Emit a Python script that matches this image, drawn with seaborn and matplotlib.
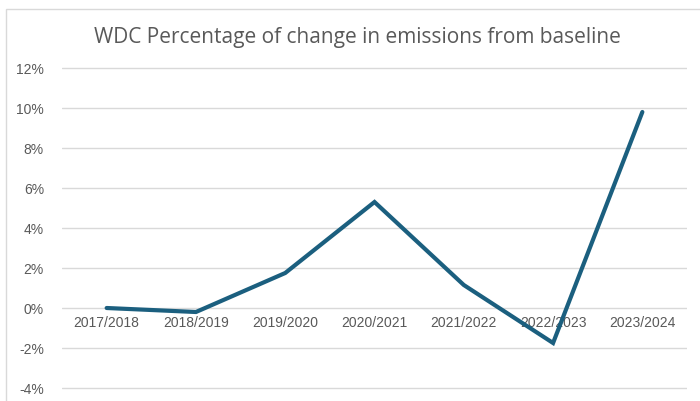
import matplotlib
matplotlib.use("Agg")
import matplotlib.pyplot as plt
from matplotlib.patches import Rectangle
from matplotlib.ticker import FuncFormatter
import seaborn as sns
import pandas as pd

years = ["2017/2018", "2018/2019", "2019/2020", "2020/2021",
         "2021/2022", "2022/2023", "2023/2024"]
change_pct = [0.0, -0.2, 1.75, 5.3, 1.15, -1.75, 9.8]
y_ticks = [-4, -2, 0, 2, 4, 6, 8, 10, 12]

df = pd.DataFrame({"year": years, "change": change_pct})
df["pos"] = range(len(years))

sns.set_style("white")
plt.rcParams["font.family"] = ["Liberation Sans", "DejaVu Sans"]

fig = plt.figure(figsize=(7.0, 4.01), dpi=100)
# plot area: 20 px per percentage point, zero line at y = 308 px
ax = fig.add_axes([62 / 700, 1 - 393 / 401, (687 - 62) / 700, (393 - 63) / 401])

# chart frame
fig.patches.append(Rectangle((6 / 700, -0.05), 1.1, 1 - 9 / 401 + 0.05,
                             transform=fig.transFigure, fill=False,
                             edgecolor="#d9d9d9", linewidth=1.0))

sns.lineplot(data=df, x="pos", y="change", ax=ax, color="#1b5f7f",
             linewidth=3.0, solid_joinstyle="miter", solid_capstyle="round")

ax.set_xlim(-0.5, len(years) - 0.5)
ax.set_ylim(-4.25, 12.25)
ax.set_yticks(y_ticks)
ax.yaxis.set_major_formatter(FuncFormatter(lambda v, _: f"{v:.0f}%"))
ax.grid(axis="y", color="#d9d9d9", linewidth=1.0)
ax.set_axisbelow(True)
for s in ax.spines.values():
    s.set_visible(False)

# category labels sit just under the zero line
ax.spines["bottom"].set_position(("data", 0))
ax.set_xticks(df["pos"])
ax.set_xticklabels(years)
ax.tick_params(axis="x", length=0, pad=6, labelsize=10, labelcolor="#595959")
ax.tick_params(axis="y", length=0, pad=13, labelsize=10, labelcolor="#595959")
ax.set_xlabel("")
ax.set_ylabel("")

fig.text(357 / 700, 1 - 37 / 401, "WDC Percentage of change in emissions from baseline",
         ha="center", va="center", fontsize=15, color="#595959",
         family=["Open Sans", "DejaVu Sans"])

fig.savefig("out.png", dpi=100)
